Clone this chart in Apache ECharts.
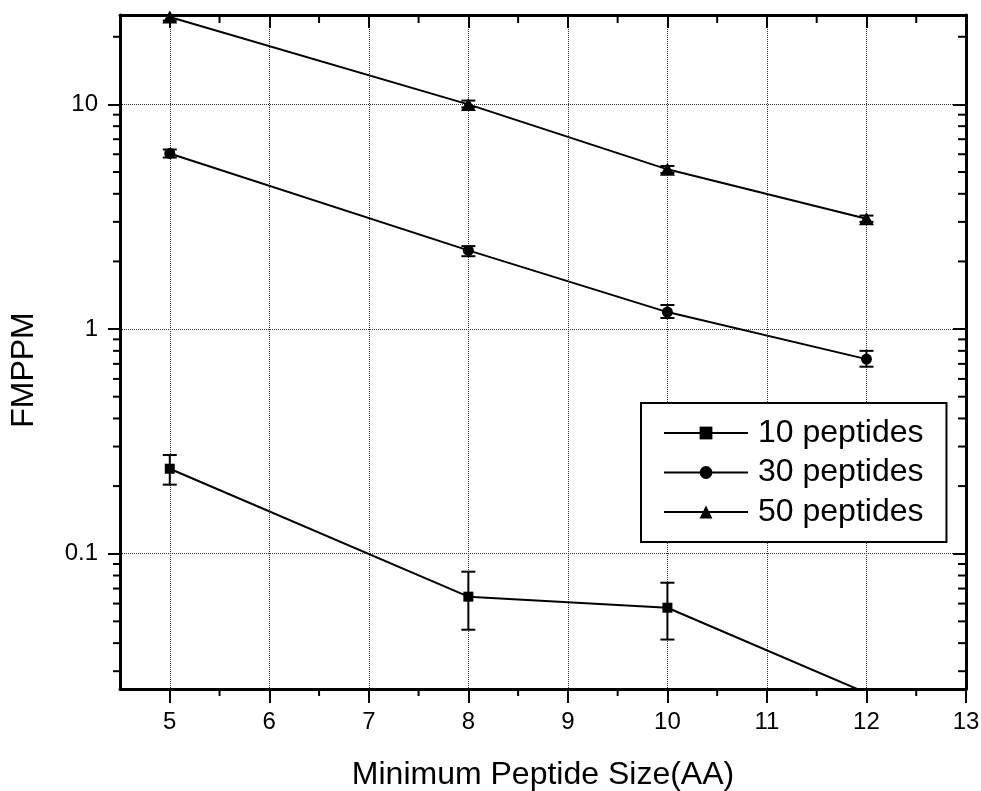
<!DOCTYPE html>
<html>
<head>
<meta charset="utf-8">
<title>FMPPM vs Minimum Peptide Size</title>
<script src="https://cdn.jsdelivr.net/npm/echarts@6/dist/echarts.min.js"></script>
<style>
  html, body { margin: 0; padding: 0; background: #fff; }
  #chart { width: 981px; height: 791px; }
</style>
</head>
<body>
<div id="chart"></div>
<script>
// Minimum peptide size (AA) on the x axis
const sizes = [5, 8, 10, 12];

// FMPPM values with lower / upper error limits for each peptide count
const fmppm10 = [0.239, 0.0644, 0.0575, 0.024];
const err10Low = [0.203, 0.0459, 0.0415, null];
const err10High = [0.275, 0.0832, 0.0743, null];

const fmppm30 = [6.05, 2.24, 1.19, 0.735];
const err30Low = [5.8, 2.11, 1.12, 0.68];
const err30High = [6.3, 2.34, 1.28, 0.80];

const fmppm50 = [24.5, 10.0, 5.14, 3.1];
const err50Low = [23.6, 9.7, 4.95, 3.0];
const err50High = [25.4, 10.4, 5.32, 3.2];

const seriesNames = ['10 peptides', '30 peptides', '50 peptides'];

// Axis ranges and minor tick positions
const xMin = 4.5, xMax = 13;
const yMin = 0.025, yMax = 25;
const xMinorTicks = [5.5, 6.5, 7.5, 8.5, 9.5, 10.5, 11.5, 12.5];
const yMinorTicks = [0.03, 0.04, 0.05, 0.06, 0.07, 0.08, 0.09,
                     0.2, 0.3, 0.4, 0.5, 0.6, 0.7, 0.8, 0.9,
                     2, 3, 4, 5, 6, 7, 8, 9, 20];

const FONT = "'Liberation Sans', Arial, Helvetica, sans-serif";
const tickStyle = { stroke: '#000', lineWidth: 2 };

function zipErrors(low, high) {
  return sizes.map((s, i) => [s, low[i], high[i]]).filter(d => d[1] != null && d[2] != null);
}

function errorBarItem(params, api) {
  const x = api.value(0);
  const top = api.coord([x, api.value(2)]);
  const bot = api.coord([x, api.value(1)]);
  const hw = 7;
  const style = { stroke: '#000', lineWidth: 2 };
  return {
    type: 'group',
    children: [
      { type: 'line', shape: { x1: top[0], y1: top[1], x2: bot[0], y2: bot[1] }, style },
      { type: 'line', shape: { x1: top[0] - hw, y1: top[1], x2: top[0] + hw, y2: top[1] }, style },
      { type: 'line', shape: { x1: bot[0] - hw, y1: bot[1], x2: bot[0] + hw, y2: bot[1] }, style }
    ]
  };
}

// Minor ticks on the x axis: outward at the bottom, inward at the top
function xMinorItem(params, api) {
  const cs = params.coordSys;
  const x = api.coord([api.value(0), 1])[0];
  const yb = cs.y + cs.height, yt = cs.y;
  return {
    type: 'group',
    children: [
      { type: 'line', shape: { x1: x, y1: yb, x2: x, y2: yb + 7 }, style: tickStyle },
      { type: 'line', shape: { x1: x, y1: yt, x2: x, y2: yt + 8 }, style: tickStyle }
    ]
  };
}

// Minor ticks on the log y axis: outward on the left, inward on the right
function yMinorItem(params, api) {
  const cs = params.coordSys;
  const y = api.coord([5, api.value(1)])[1];
  const xl = cs.x, xr = cs.x + cs.width;
  return {
    type: 'group',
    children: [
      { type: 'line', shape: { x1: xl - 7, y1: y, x2: xl, y2: y }, style: tickStyle },
      { type: 'line', shape: { x1: xr - 8, y1: y, x2: xr, y2: y }, style: tickStyle }
    ]
  };
}

const axisLineStyle = { color: '#000', width: 3 };
const gridLineStyle = { color: '#333', width: 1, type: 'dotted' };

const chart = echarts.init(document.getElementById('chart'), null, { renderer: 'canvas' });

chart.setOption({
  backgroundColor: '#fff',
  animation: false,
  textStyle: { fontFamily: FONT, color: '#000' },
  grid: { left: 120, right: 15, top: 15, bottom: 102, containLabel: false, outerBoundsMode: 'none' },
  legend: {
    data: seriesNames,
    left: 641,
    top: 403,
    orient: 'vertical',
    selectedMode: false,
    backgroundColor: '#fff',
    borderColor: '#000',
    borderWidth: 2,
    borderRadius: 0,
    padding: [14, 23, 14, 22],
    itemWidth: 84,
    itemHeight: 16,
    itemGap: 7.5,
    textStyle: { fontFamily: FONT, fontSize: 32, color: '#000', lineHeight: 32, padding: [0, 0, 0, 5] }
  },
  xAxis: [
    {
      type: 'value',
      position: 'bottom',
      min: xMin,
      max: xMax,
      splitNumber: 8,
      name: 'Minimum Peptide Size(AA)',
      nameLocation: 'middle',
      nameGap: 70,
      nameTextStyle: { fontFamily: FONT, fontSize: 32, color: '#000' },
      axisLine: { show: true, onZero: false, lineStyle: axisLineStyle },
      axisTick: { show: true, inside: false, length: 14, lineStyle: { color: '#000', width: 2 } },
      axisLabel: { show: true, margin: 21, fontSize: 24, fontFamily: FONT, color: '#000', showMinLabel: false },
      splitLine: { show: true, lineStyle: gridLineStyle }
    },
    {
      type: 'value',
      position: 'top',
      min: xMin,
      max: xMax,
      splitNumber: 8,
      axisLine: { show: true, onZero: false, lineStyle: axisLineStyle },
      axisTick: { show: true, inside: true, length: 13, lineStyle: { color: '#000', width: 2 } },
      axisLabel: { show: false },
      splitLine: { show: false }
    }
  ],
  yAxis: [
    {
      type: 'log',
      logBase: 10,
      position: 'left',
      min: yMin,
      max: yMax,
      name: 'FMPPM',
      nameLocation: 'middle',
      nameGap: 80,
      nameTextStyle: { fontFamily: FONT, fontSize: 32, color: '#000', padding: [0, 36, 0, 0] },
      axisLine: { show: true, lineStyle: axisLineStyle },
      axisTick: { show: true, inside: false, length: 12, lineStyle: { color: '#000', width: 2 } },
      axisLabel: { show: true, margin: 22, fontSize: 24, fontFamily: FONT, color: '#000', showMinLabel: false, showMaxLabel: false },
      splitLine: { show: true, lineStyle: gridLineStyle }
    },
    {
      type: 'log',
      logBase: 10,
      position: 'right',
      min: yMin,
      max: yMax,
      axisLine: { show: true, lineStyle: axisLineStyle },
      axisTick: { show: true, inside: true, length: 13, lineStyle: { color: '#000', width: 2 } },
      axisLabel: { show: false },
      splitLine: { show: false }
    }
  ],
  series: [
    {
      name: seriesNames[0],
      type: 'line',
      data: sizes.map((s, i) => [s, fmppm10[i]]),
      symbol: 'rect',
      symbolSize: 10,
      showAllSymbol: true,
      clip: true,
      lineStyle: { color: '#000', width: 2 },
      itemStyle: { color: '#000' },
      z: 4
    },
    {
      name: seriesNames[1],
      type: 'line',
      data: sizes.map((s, i) => [s, fmppm30[i]]),
      symbol: 'circle',
      symbolSize: 11,
      showAllSymbol: true,
      clip: true,
      lineStyle: { color: '#000', width: 2 },
      itemStyle: { color: '#000' },
      z: 4
    },
    {
      name: seriesNames[2],
      type: 'line',
      data: sizes.map((s, i) => [s, fmppm50[i]]),
      symbol: 'triangle',
      symbolSize: [15, 13],
      showAllSymbol: true,
      clip: true,
      lineStyle: { color: '#000', width: 2 },
      itemStyle: { color: '#000' },
      z: 4
    },
    {
      type: 'custom', name: 'err10', renderItem: errorBarItem, clip: true, silent: true,
      data: zipErrors(err10Low, err10High), encode: { x: 0, y: [1, 2] }, z: 3
    },
    {
      type: 'custom', name: 'err30', renderItem: errorBarItem, clip: true, silent: true,
      data: zipErrors(err30Low, err30High), encode: { x: 0, y: [1, 2] }, z: 3
    },
    {
      type: 'custom', name: 'err50', renderItem: errorBarItem, clip: true, silent: true,
      data: zipErrors(err50Low, err50High), encode: { x: 0, y: [1, 2] }, z: 3
    },
    {
      type: 'custom', name: 'xMinor', renderItem: xMinorItem, clip: false, silent: true,
      data: xMinorTicks.map(v => [v, 1]), encode: { x: 0, y: 1 }, z: 5
    },
    {
      type: 'custom', name: 'yMinor', renderItem: yMinorItem, clip: false, silent: true,
      data: yMinorTicks.map(v => [5, v]), encode: { x: 0, y: 1 }, z: 5
    }
  ]
});
</script>
</body>
</html>
